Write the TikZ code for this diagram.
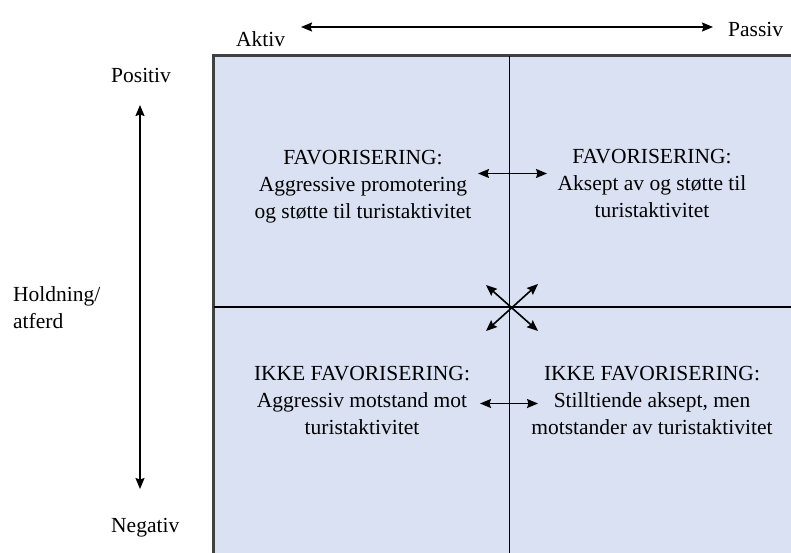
\documentclass[tikz,border=0pt]{standalone}
\usepackage{fontspec}
\setmainfont{Liberation Serif}
\usepackage{tikz}
\usetikzlibrary{arrows.meta}
\definecolor{cellblue}{HTML}{D9E1F2}
\definecolor{edgegray}{HTML}{404040}

\begin{document}
\begin{tikzpicture}[x=1pt,y=-1pt,>={Stealth[length=11pt,width=9pt,inset=1.5pt]},
  every node/.style={font=\fontsize{21.5}{27}\selectfont,inner sep=0pt},
  celltext/.style={align=center}]
  \useasboundingbox (0,0) rectangle (791,552);
  \clip (0,0) rectangle (791,552);
  \coordinate (TL) at (213.5,55.5);
  \coordinate (BR) at (800,560);
  \coordinate (C) at (509.5,307);
  % the four cells
  \fill[cellblue] (TL) rectangle (BR);
  \draw[edgegray,line width=2.5pt] (BR |- TL) -- (TL) -- (TL |- BR);
  \draw[line width=1.8pt] (C |- TL) -- (C |- BR);
  \draw[line width=1.8pt] (C -| TL) -- (C -| BR);
  % axis labels
  \node[anchor=base west] (aktiv) at (236,46) {Aktiv};
  \node[anchor=base west] (passiv) at (728,36) {Passiv};
  \node[anchor=base west] (positiv) at (111,82) {Positiv};
  \node[anchor=base west] (negativ) at (111,532) {Negativ};
  \node[anchor=west,align=left] (holdning) at (13,308) {Holdning/\\atferd};
  \coordinate (xl) at (301,27);
  \coordinate (xr) at (713,27);
  \coordinate (yt) at (140,105);
  \coordinate (yb) at (140,489);
  \draw[<->,line width=1.6pt] (xl) -- (xr);
  \draw[<->,line width=1.6pt] (yt) -- (yb);
  % cell texts
  \node[celltext] (favakt) at (363,186.3)
    {FAVORISERING:\\Aggressive promotering\\og støtte til turistaktivitet};
  \node[celltext] (favpas) at (652,183.9)
    {FAVORISERING:\\Aksept av og støtte til\\turistaktivitet};
  \node[celltext] (ikkeakt) at (362,400.9)
    {IKKE FAVORISERING:\\Aggressiv motstand mot\\turistaktivitet};
  \node[celltext] (ikkepas) at (652,400.9)
    {IKKE FAVORISERING:\\Stilltiende aksept, men\\motstander av turistaktivitet};
  % arrows between cells
  \coordinate (tl) at (478,173.5);
  \coordinate (tr) at (547,173.5);
  \coordinate (bl) at (480,403.5);
  \coordinate (br) at (538,403.5);
  \draw[<->,line width=1.6pt] (tl) -- (tr);
  \draw[<->,line width=1.6pt] (bl) -- (br);
  \draw[<->,line width=1.6pt] (486,285) -- (538,331);
  \draw[<->,line width=1.6pt] (538,284) -- (486,331);
\end{tikzpicture}
\end{document}
